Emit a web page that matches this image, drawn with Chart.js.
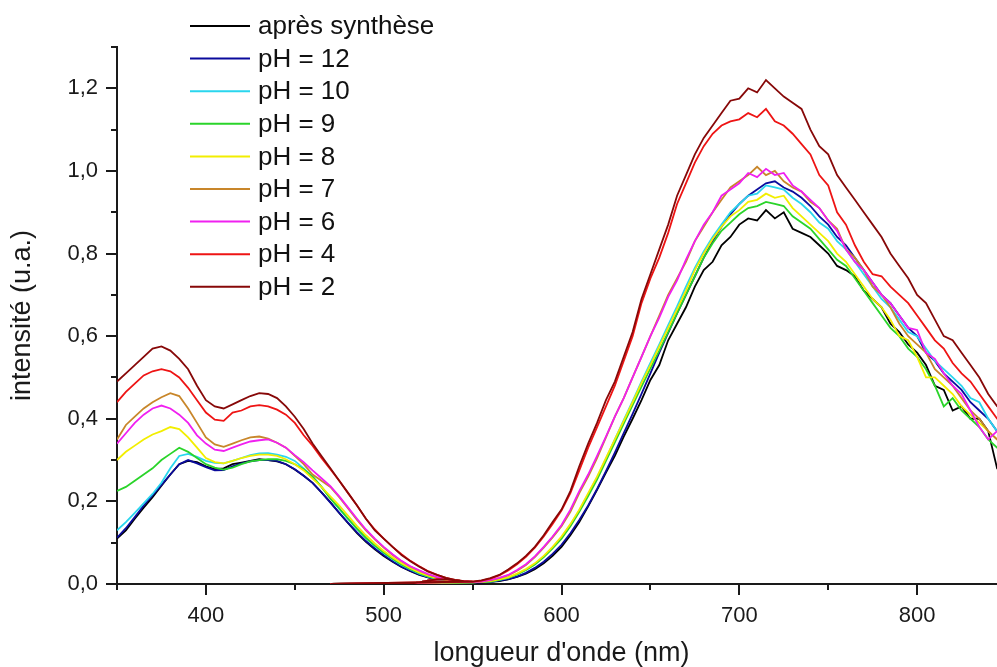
<!DOCTYPE html>
<html><head><meta charset="utf-8">
<script src="https://cdn.jsdelivr.net/npm/chart.js@4.4.0/dist/chart.umd.min.js"></script>
<style>
html,body{margin:0;padding:0;overflow:hidden;background:#fff;width:997px;height:667px}
#wrap{position:absolute;left:0;top:0;width:1010px;height:667px}
</style></head><body><div id="wrap"><canvas id="c" width="1010" height="667"></canvas></div>
<script>
const wavelengths = [350,355,360,365,370,375,380,385,390,395,400,405,410,415,420,425,430,435,440,445,450,455,460,465,470,475,480,485,490,495,500,505,510,515,520,525,530,535,540,545,550,555,560,565,570,575,580,585,590,595,600,605,610,615,620,625,630,635,640,645,650,655,660,665,670,675,680,685,690,695,700,705,710,715,720,725,730,735,740,745,750,755,760,765,770,775,780,785,790,795,800,805,810,815,820,825,830,835,840,845,850];

// start of the emission scans (overlapping, read from the baseline near 470-550 nm)
const emissionOnsetNm = [470,475,480,485,490,495,500,505,510,515,520,525,530,535,540,545];
const emissionOnset = [0,0,0,0,0,0,0,0,0,0.001,0.004,0.008,0.011,0.012,0.009,0.007];

const seriesLabels = ["après synthèse","pH = 12","pH = 10","pH = 9","pH = 8","pH = 7","pH = 6","pH = 4","pH = 2"];
const seriesColors = ["#000000","#0a0a9c","#2ad6ee","#2ad42a","#f2ee00","#c8862a","#f020f0","#ee1414","#870808"];

const apresSynthese = [0.11,0.13,0.158,0.185,0.21,0.238,0.265,0.29,0.298,0.295,0.285,0.278,0.28,0.29,0.294,0.298,0.302,0.3,0.297,0.29,0.277,0.262,0.245,0.222,0.198,0.172,0.147,0.123,0.102,0.084,0.068,0.054,0.041,0.031,0.022,0.016,0.011,0.008,0.006,0.005,0.004,0.004,0.005,0.007,0.011,0.017,0.025,0.036,0.05,0.068,0.09,0.118,0.15,0.188,0.228,0.27,0.31,0.357,0.4,0.445,0.494,0.53,0.59,0.63,0.67,0.72,0.76,0.78,0.82,0.84,0.87,0.885,0.88,0.905,0.885,0.9,0.86,0.85,0.84,0.82,0.8,0.77,0.76,0.745,0.71,0.69,0.67,0.63,0.61,0.58,0.56,0.53,0.48,0.47,0.42,0.43,0.4,0.4,0.37,0.28,0.28];
const pH12 = [0.112,0.135,0.162,0.19,0.215,0.24,0.265,0.29,0.3,0.292,0.283,0.275,0.276,0.285,0.292,0.297,0.3,0.3,0.298,0.29,0.278,0.262,0.245,0.222,0.197,0.172,0.148,0.125,0.104,0.086,0.07,0.055,0.042,0.032,0.023,0.016,0.011,0.008,0.006,0.005,0.004,0.004,0.005,0.008,0.012,0.018,0.027,0.039,0.054,0.073,0.095,0.123,0.155,0.19,0.23,0.273,0.318,0.365,0.412,0.46,0.51,0.56,0.608,0.655,0.7,0.745,0.79,0.83,0.865,0.895,0.92,0.94,0.955,0.97,0.975,0.96,0.95,0.935,0.915,0.89,0.87,0.84,0.82,0.79,0.76,0.73,0.7,0.68,0.65,0.62,0.6,0.56,0.54,0.51,0.49,0.47,0.44,0.42,0.4,0.37,0.36];
const pH10 = [0.13,0.15,0.172,0.195,0.218,0.245,0.28,0.31,0.315,0.308,0.298,0.293,0.292,0.298,0.305,0.312,0.316,0.317,0.313,0.308,0.298,0.28,0.26,0.235,0.208,0.182,0.157,0.133,0.111,0.092,0.075,0.06,0.046,0.035,0.025,0.018,0.012,0.008,0.006,0.005,0.004,0.005,0.006,0.01,0.015,0.023,0.034,0.048,0.066,0.088,0.112,0.143,0.178,0.217,0.258,0.303,0.35,0.397,0.443,0.49,0.535,0.58,0.627,0.672,0.72,0.765,0.805,0.84,0.87,0.9,0.92,0.94,0.945,0.965,0.96,0.955,0.935,0.92,0.9,0.875,0.86,0.83,0.81,0.78,0.75,0.72,0.69,0.67,0.64,0.61,0.6,0.57,0.54,0.52,0.5,0.48,0.45,0.44,0.4,0.37,0.36];
const pH9 = [0.225,0.235,0.25,0.265,0.28,0.3,0.315,0.33,0.32,0.305,0.29,0.282,0.277,0.282,0.29,0.297,0.3,0.302,0.302,0.298,0.29,0.278,0.26,0.235,0.207,0.183,0.158,0.134,0.112,0.093,0.076,0.061,0.047,0.036,0.026,0.018,0.013,0.009,0.006,0.005,0.004,0.005,0.006,0.01,0.015,0.023,0.034,0.047,0.065,0.086,0.11,0.14,0.175,0.213,0.253,0.298,0.343,0.388,0.433,0.478,0.522,0.565,0.61,0.655,0.7,0.745,0.79,0.825,0.855,0.875,0.895,0.91,0.915,0.925,0.92,0.915,0.89,0.875,0.86,0.835,0.81,0.785,0.77,0.74,0.71,0.68,0.65,0.62,0.6,0.57,0.55,0.52,0.48,0.43,0.45,0.42,0.4,0.38,0.35,0.33,0.32];
const pH8 = [0.3,0.32,0.335,0.35,0.362,0.37,0.38,0.375,0.355,0.33,0.305,0.295,0.292,0.298,0.305,0.31,0.313,0.313,0.31,0.302,0.29,0.275,0.255,0.235,0.212,0.19,0.165,0.14,0.118,0.098,0.08,0.064,0.05,0.038,0.028,0.02,0.014,0.01,0.007,0.005,0.004,0.005,0.007,0.011,0.016,0.025,0.036,0.05,0.068,0.09,0.115,0.145,0.18,0.22,0.26,0.305,0.35,0.395,0.44,0.487,0.53,0.575,0.62,0.665,0.71,0.76,0.8,0.835,0.865,0.89,0.905,0.925,0.93,0.945,0.935,0.94,0.91,0.89,0.87,0.85,0.83,0.8,0.78,0.75,0.72,0.69,0.67,0.64,0.6,0.59,0.55,0.5,0.5,0.48,0.46,0.43,0.41,0.39,0.37,0.35,0.34];
const pH7 = [0.35,0.385,0.405,0.425,0.44,0.452,0.462,0.455,0.425,0.39,0.355,0.338,0.332,0.34,0.348,0.355,0.357,0.352,0.342,0.33,0.31,0.29,0.265,0.25,0.235,0.21,0.183,0.155,0.13,0.108,0.088,0.07,0.055,0.042,0.032,0.023,0.016,0.011,0.008,0.006,0.005,0.006,0.009,0.014,0.021,0.032,0.046,0.065,0.088,0.113,0.14,0.175,0.22,0.26,0.305,0.355,0.405,0.45,0.5,0.55,0.6,0.65,0.7,0.74,0.78,0.83,0.865,0.9,0.93,0.96,0.975,0.99,1.01,0.99,1.0,0.975,0.96,0.95,0.925,0.91,0.88,0.86,0.81,0.79,0.76,0.72,0.7,0.67,0.63,0.6,0.58,0.56,0.52,0.5,0.48,0.45,0.42,0.4,0.37,0.35,0.34];
const pH6 = [0.34,0.365,0.39,0.41,0.425,0.432,0.425,0.41,0.39,0.36,0.34,0.325,0.322,0.33,0.338,0.345,0.348,0.35,0.342,0.33,0.312,0.295,0.275,0.256,0.237,0.212,0.185,0.158,0.132,0.11,0.09,0.072,0.056,0.043,0.033,0.024,0.017,0.012,0.008,0.006,0.005,0.006,0.01,0.015,0.022,0.034,0.048,0.067,0.09,0.115,0.143,0.18,0.225,0.265,0.31,0.357,0.405,0.45,0.5,0.55,0.6,0.645,0.695,0.735,0.785,0.83,0.87,0.9,0.94,0.955,0.97,0.995,0.985,1.005,0.99,0.995,0.965,0.95,0.93,0.91,0.88,0.855,0.81,0.78,0.76,0.73,0.7,0.68,0.65,0.62,0.615,0.56,0.545,0.51,0.48,0.46,0.42,0.38,0.35,0.37,0.36];
const pH4 = [0.44,0.465,0.485,0.505,0.515,0.52,0.515,0.5,0.475,0.445,0.415,0.398,0.395,0.415,0.42,0.43,0.433,0.43,0.422,0.41,0.39,0.36,0.335,0.305,0.278,0.25,0.22,0.19,0.158,0.132,0.11,0.09,0.072,0.056,0.043,0.031,0.022,0.015,0.01,0.007,0.006,0.008,0.013,0.021,0.033,0.048,0.066,0.088,0.115,0.145,0.178,0.22,0.275,0.33,0.38,0.43,0.48,0.54,0.6,0.68,0.74,0.79,0.85,0.92,0.97,1.02,1.06,1.09,1.11,1.12,1.125,1.14,1.13,1.15,1.12,1.11,1.09,1.065,1.04,0.99,0.965,0.9,0.87,0.82,0.78,0.75,0.745,0.72,0.7,0.68,0.65,0.62,0.59,0.57,0.535,0.51,0.49,0.46,0.43,0.4,0.38];
const pH2 = [0.49,0.51,0.53,0.55,0.57,0.575,0.565,0.545,0.52,0.48,0.445,0.43,0.425,0.435,0.445,0.455,0.462,0.46,0.45,0.43,0.405,0.375,0.34,0.31,0.28,0.25,0.22,0.19,0.158,0.13,0.11,0.09,0.07,0.055,0.042,0.03,0.022,0.015,0.01,0.007,0.006,0.009,0.014,0.022,0.035,0.05,0.068,0.09,0.118,0.15,0.18,0.225,0.285,0.34,0.39,0.445,0.49,0.55,0.61,0.69,0.75,0.81,0.87,0.94,0.99,1.04,1.08,1.11,1.14,1.17,1.175,1.2,1.19,1.22,1.2,1.18,1.165,1.15,1.1,1.06,1.04,0.99,0.96,0.93,0.9,0.87,0.84,0.8,0.77,0.74,0.7,0.68,0.64,0.6,0.59,0.56,0.53,0.5,0.46,0.43,0.42];

const seriesValues = [apresSynthese,pH12,pH10,pH9,pH8,pH7,pH6,pH4,pH2];

const xMajorTicks = [400,500,600,700,800];
const xMinorTicks = [350,450,550,650,750,850];
const yMajorTicks = [0,0.2,0.4,0.6,0.8,1.0,1.2];
const yMinorTicks = [0.1,0.3,0.5,0.7,0.9,1.1,1.3];

const FONT = '"Liberation Sans", Arial, sans-serif';
const AXIS = '#1a1a1a';
const SPLIT_NM = 550;

function buildPoints(vals){
  const left = [], right = [];
  wavelengths.forEach((w,j)=>{
    if (w <= SPLIT_NM) left.push({x:w, y:vals[j]});
    if (w >= SPLIT_NM) right.push({x:w, y:vals[j]});
  });
  const onset = emissionOnsetNm.map((w,j)=>({x:w, y:emissionOnset[j]}));
  return left.concat(onset, right);
}

const datasets = seriesValues.map((vals,i)=>({
  label: seriesLabels[i],
  data: buildPoints(vals),
  borderColor: seriesColors[i],
  backgroundColor: seriesColors[i],
  borderWidth: 1.8,
  pointRadius: 0,
  tension: 0,
  fill: false,
  order: seriesValues.length - 1 - i
}));

function setTicks(major, minor){
  return function(scale){
    scale.ticks = major.concat(minor).sort((a,b)=>a-b).map(v=>({value:v}));
  };
}

const tickMarks = {
  id:'tickMarks',
  afterDraw(chart){
    const ctx = chart.ctx; const xs = chart.scales.x; const ys = chart.scales.y;
    ctx.save(); ctx.strokeStyle = AXIS; ctx.lineWidth = 2;
    xs.ticks.forEach(t=>{
      const px = Math.round(xs.getPixelForValue(t.value));
      const len = xMajorTicks.includes(t.value) ? 11 : 6;
      ctx.beginPath(); ctx.moveTo(px, chart.chartArea.bottom); ctx.lineTo(px, chart.chartArea.bottom + len); ctx.stroke();
    });
    ys.ticks.forEach(t=>{
      const py = Math.round(ys.getPixelForValue(t.value));
      const len = yMajorTicks.includes(t.value) ? 11 : 6;
      ctx.beginPath(); ctx.moveTo(chart.chartArea.left, py); ctx.lineTo(chart.chartArea.left - len, py); ctx.stroke();
    });
    ctx.restore();
  }
};

const customLegend = {
  id:'customLegend',
  afterDraw(chart){
    const ctx = chart.ctx; ctx.save();
    ctx.font = '26px ' + FONT; ctx.textBaseline = 'middle'; ctx.fillStyle = '#111';
    chart.data.datasets.forEach((ds,i)=>{
      const y = 26 + i*32.6;
      ctx.strokeStyle = ds.borderColor; ctx.lineWidth = 2;
      ctx.beginPath(); ctx.moveTo(190, y); ctx.lineTo(250, y); ctx.stroke();
      ctx.fillText(ds.label, 258, y + 1);
    });
    ctx.restore();
  }
};

Chart.defaults.font.family = FONT;
Chart.defaults.color = '#1a1a1a';

new Chart(document.getElementById('c'), {
  type:'line',
  data:{datasets},
  options:{
    responsive:false, animation:false, devicePixelRatio:1,
    layout:{padding:{top:47,right:4,left:0,bottom:0}},
    plugins:{legend:{display:false}, tooltip:{enabled:false}},
    scales:{
      x:{
        type:'linear', min:350, max:850,
        afterBuildTicks: setTicks(xMajorTicks, xMinorTicks),
        afterFit(s){ s.height = 83; s.paddingLeft = 0; s.paddingRight = 0; },
        grid:{display:false, drawTicks:false},
        border:{display:true, color:AXIS, width:2},
        ticks:{autoSkip:false, maxRotation:0, padding:19, font:{size:22},
          callback:(v)=> xMajorTicks.includes(v) ? String(v) : ''},
        title:{display:true, text:"longueur d'onde (nm)", font:{size:27, lineHeight:1}, padding:{top:0,bottom:0}}
      },
      y:{
        type:'linear', min:0, max:1.3,
        afterBuildTicks: setTicks(yMajorTicks, yMinorTicks),
        afterFit(s){ s.width = 117; s.paddingTop = 0; s.paddingBottom = 0; },
        grid:{display:false, drawTicks:false},
        border:{display:true, color:AXIS, width:2},
        ticks:{autoSkip:false, padding:19, font:{size:22},
          callback:(v)=> yMajorTicks.includes(v) ? v.toFixed(1).replace('.', ',') : ''},
        title:{display:true, text:'intensité (u.a.)', font:{size:27, lineHeight:1}, padding:{top:9,bottom:0}}
      }
    }
  },
  plugins:[tickMarks, customLegend]
});
</script></body></html>
